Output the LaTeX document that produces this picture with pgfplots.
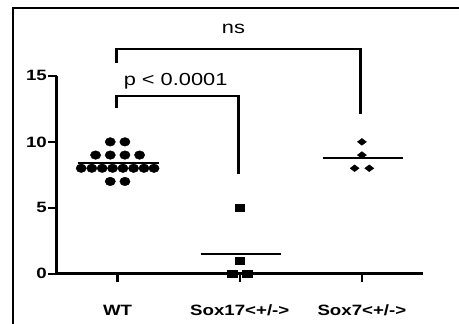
\documentclass[border=0pt]{standalone}
\usepackage{fontspec}
\setmainfont{Liberation Sans}[FakeStretch=1.25]
\usepackage{pgfplots}
\pgfplotsset{compat=1.18}
\pgfplotstableread{
x y
-0.06 10
0.06 10
-0.18 9
-0.06 9
0.06 9
0.18 9
-0.298 8
-0.211 8
-0.126 8
-0.041 8
0.044 8
0.131 8
0.216 8
0.298 8
-0.06 7
0.06 7
}\wt
\pgfplotstableread{
x y
1.0 5
1.0 1
0.937 0
1.063 0
}\soxseventeen
\pgfplotstableread{
x y
2.0 10
2.0 9
1.94 8
2.06 8
}\soxseven
\begin{document}
\begin{tikzpicture}[x=1bp,y=1bp]
\begin{axis}[
  at={(56.5bp,49.2bp)}, anchor=south west,
  scale only axis, width=366.5bp, height=197.9bp,
  xmin=-0.5, xmax=2.5, ymin=0, ymax=15,
  axis lines=left, axis line style={-, line width=3bp},
  xtick={0,1,2}, xticklabels={WT, Sox17<+/->, Sox7<+/->},
  ytick={0,5,10,15},
  tick align=outside, major tick length=8.5bp,
  tick style={line width=2.5bp, black},
  ticklabel style={font=\fontsize{15}{17}\selectfont\bfseries},
  /pgf/number format/assume math mode=true,
  xticklabel style={anchor=base, yshift=-33bp},
  yticklabel style={inner sep=1bp},
  clip=false,
]
\addplot[only marks, mark=*, mark size=4.3bp, mark options={xscale=1.2, fill=black, draw=black}] table {\wt};
\addplot[only marks, mark=square*, mark size=3.7bp, mark options={xscale=1.3, fill=black, draw=black}] table {\soxseventeen};
\addplot[only marks, mark=diamond*, mark size=3.4bp, mark options={xscale=1.77, fill=black, draw=black}] table {\soxseven};
\addplot[black, line width=2bp, no marks] coordinates {(-0.32,8.375) (0.34,8.375)};
\addplot[black, line width=2bp, no marks] coordinates {(0.68,1.5) (1.34,1.5)};
\addplot[black, line width=2bp, no marks] coordinates {(1.68,8.75) (2.34,8.75)};
\addplot[black, line width=2.5bp, no marks, line join=miter] coordinates {(-0.01,12.55) (-0.01,13.48) (0.99,13.48) (0.99,7.54)};
\addplot[black, line width=2.5bp, no marks, line join=miter] coordinates {(-0.01,15.96) (-0.01,17.02) (1.99,17.02) (1.99,12.12)};
\node[anchor=base, font=\fontsize{17.5}{20}\selectfont, inner sep=0pt] at (axis cs:0.475,14.24) {p < 0.0001};
\node[anchor=base, font=\fontsize{17.5}{20}\selectfont, inner sep=0pt] at (axis cs:0.948,18.18) {ns};
\end{axis}
\draw[line width=2.2bp, line join=miter] (13,-5) -- (13,315.3) -- (470,315.3);
\pgfresetboundingbox
\path[use as bounding box] (0,0) rectangle (459,323);
\end{tikzpicture}
\end{document}
